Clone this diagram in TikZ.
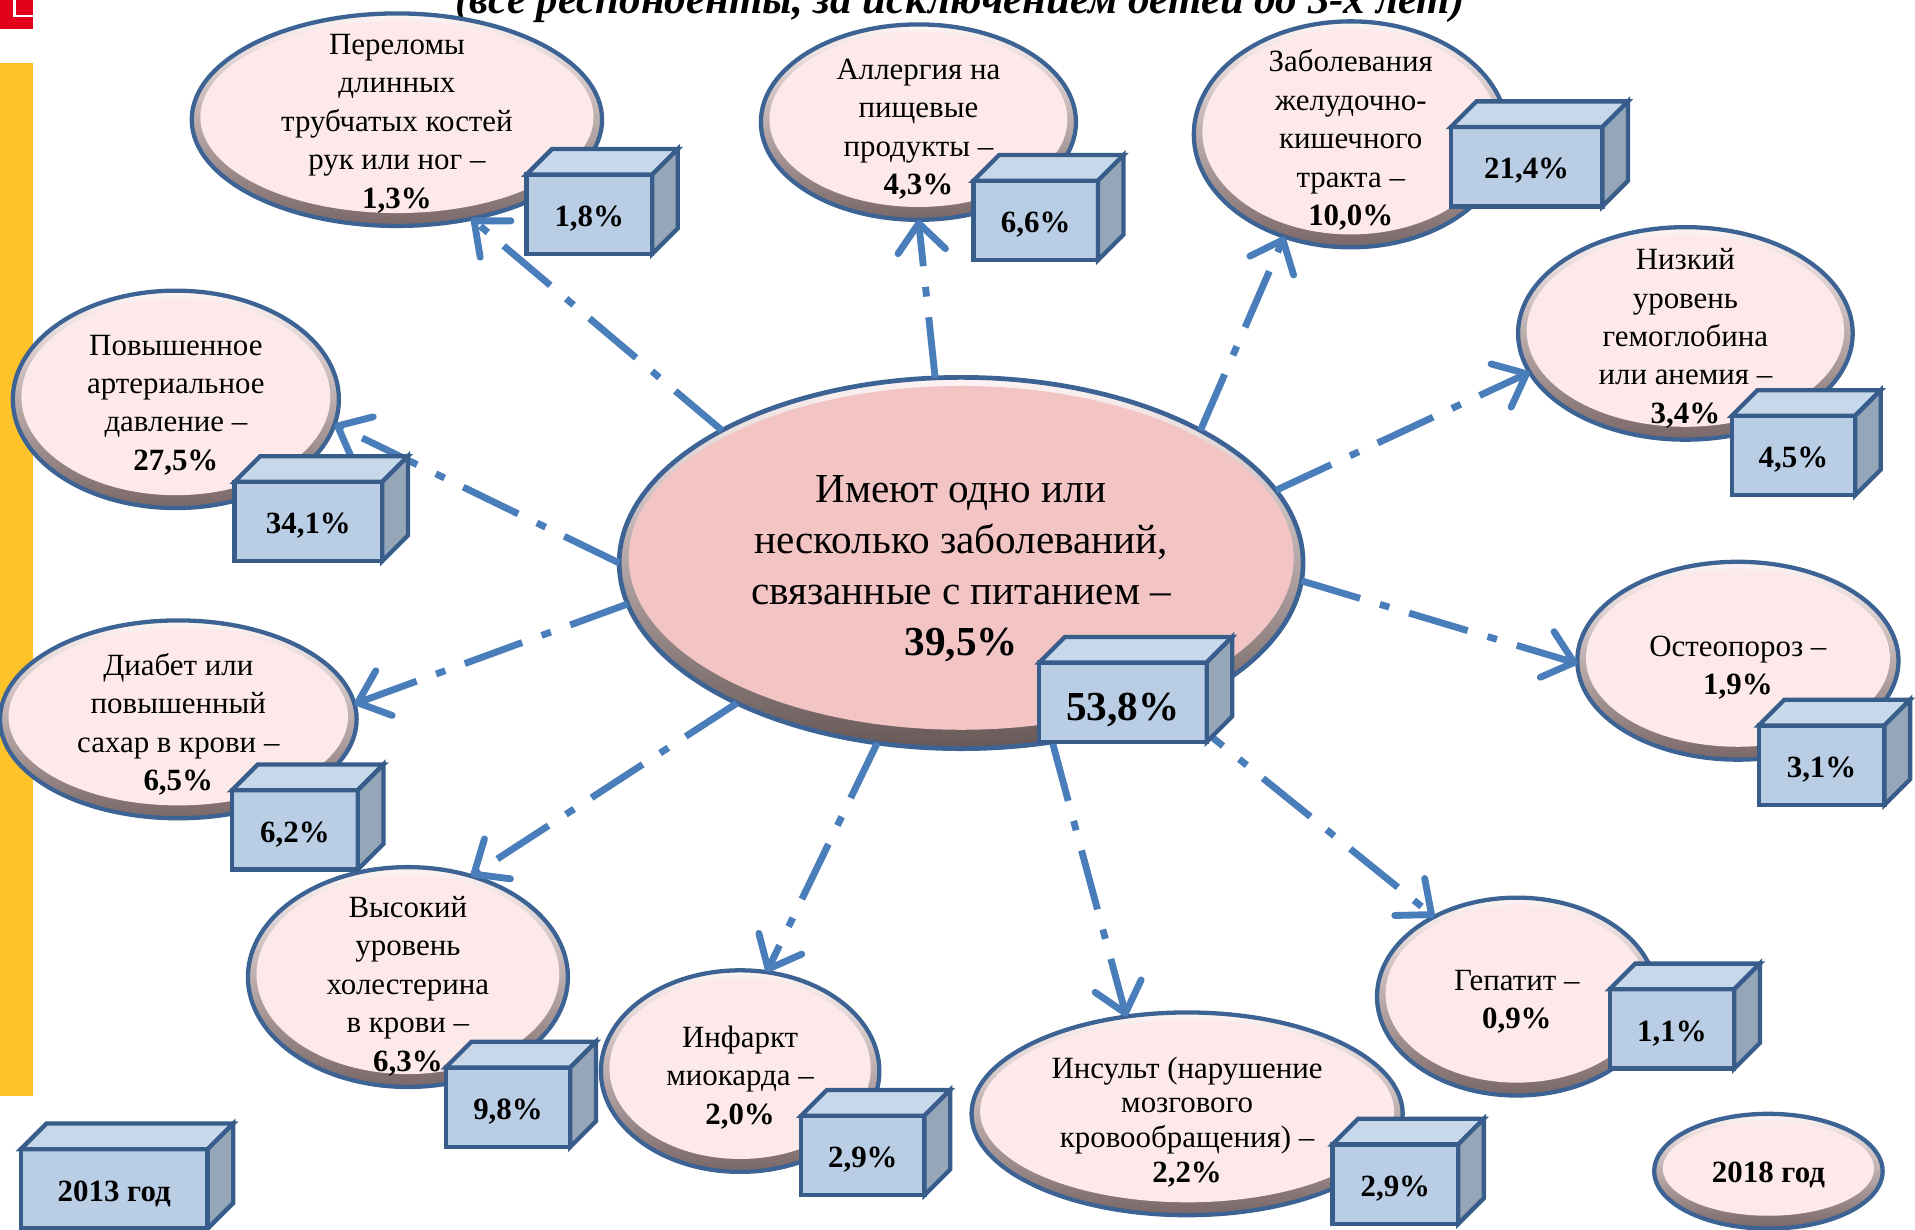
\documentclass[tikz,border=0pt]{standalone}
\usepackage{fontspec}
\setmainfont{Liberation Serif}
\usetikzlibrary{shapes.geometric, arrows.meta, calc}

\definecolor{arrowblue}{HTML}{4A7EBB}
\definecolor{ringblue}{HTML}{3C6394}
\definecolor{boxline}{HTML}{385D8A}
\definecolor{boxfront}{HTML}{B9CDE5}
\definecolor{boxtop}{HTML}{C8D8EB}
\definecolor{boxside}{HTML}{95A6B9}
\definecolor{bubblefill}{HTML}{FDE9E9}
\definecolor{mainfill}{HTML}{F3C4C4}
\definecolor{rimtop}{HTML}{FFF4F4}
\definecolor{rimbot}{HTML}{7A6767}
\definecolor{barred}{HTML}{E2001A}
\definecolor{baryellow}{HTML}{FEC22B}

\tikzset{
  bubble/.style={ellipse, draw=ringblue, line width=1pt, inner sep=0pt, outer sep=0pt,
    top color=rimtop, bottom color=rimbot,
    path picture={\fill[bubblefill] let \p1=(path picture bounding box.north east),
      \p2=(path picture bounding box.center) in
      ([yshift=0.6pt]\p2) ellipse ({\x1-\x2-2pt} and {\y1-\y2-2.4pt});}},
  mainbubble/.style={ellipse, draw=ringblue, line width=1.1pt, inner sep=0pt, outer sep=0pt,
    top color=rimtop, bottom color=rimbot!85!black,
    path picture={\fill[mainfill] let \p1=(path picture bounding box.north east),
      \p2=(path picture bounding box.center) in
      ([yshift=1.2pt]\p2) ellipse ({\x1-\x2-2.2pt} and {\y1-\y2-3.2pt});}},
  lbl/.style={align=center, inner sep=0pt, yshift=#1, font=\fontsize{7.2}{8.95}\selectfont},
  lbl/.default=-1.3pt,
  frontbox/.style={rectangle, draw=boxline, fill=boxfront, line width=1pt,
    minimum height=6.5mm, inner sep=0pt, outer sep=0pt,
    text height=6.9pt, text depth=1.2pt,
    font=\bfseries\fontsize{7.2}{8.6}\selectfont},
  arr/.style={arrowblue, line width=1.6pt,
    dash pattern=on 5mm off 1.7mm on 0.8mm off 1.7mm,
    -{Straight Barb[length=2.3mm, width=3.9mm, round]}},
}

% value box drawn as a cuboid: name, front centre, front width, text
\def\boxd{2.1mm}
\newcommand{\valbox}[5][]{%
  \node[frontbox, minimum width=#4, #1] (#2) at (#3) {#5};
  \filldraw[boxline, line width=1pt, fill=boxtop] (#2.north west) -- ++(\boxd,\boxd)
    -- ([shift={(\boxd,\boxd)}]#2.north east) -- (#2.north east) -- cycle;
  \filldraw[boxline, line width=1pt, fill=boxside] (#2.north east) -- ++(\boxd,\boxd)
    -- ([shift={(\boxd,\boxd)}]#2.south east) -- (#2.south east) -- cycle;
}

\begin{document}
\begin{tikzpicture}[x=0.1mm, y={(0,-0.1mm)}]
  \useasboundingbox (0,0) rectangle (1568,1007);
  \clip (0,0) rectangle (1568,1007);

  % slide decoration on the left
  \fill[barred] (0,0) rectangle (27,24);
  \draw[white, line width=0.2mm] (12,0) -- (12,13) -- (27,13);
  \fill[baryellow] (0,52) rectangle (27,897);

  \node[anchor=base, font=\bfseries\itshape\fontsize{10}{12}\selectfont] (ttl) at (786,11)
    {(все респонденты, за исключением детей до 3-х лет)};

  % central ellipse
  \node[mainbubble, minimum width=56mm, minimum height=30.4mm] (main) at (787,461) {};
  \node[lbl, font=\fontsize{9.6}{11.9}\selectfont] (maint) at (main)
    {Имеют одно или\\несколько заболеваний,\\связанные с питанием --\\\textbf{39,5\%}};

  % diseases
  \node[bubble, minimum width=33.6mm, minimum height=17.4mm] (p1) at (325,98) {};
  \node[lbl=-0.9pt] (p1t) at (p1) {Переломы\\длинных\\трубчатых костей\\рук или ног --\\\textbf{1,3\%}};
  \node[bubble, minimum width=25.8mm, minimum height=16mm] (p2) at (752,100) {};
  \node[lbl=-1.6pt] (p2t) at (p2) {Аллергия на\\пищевые\\продукты --\\\textbf{4,3\%}};
  \node[bubble, minimum width=25.7mm, minimum height=18.5mm] (p3) at (1106,110) {};
  \node[lbl] (p3t) at (p3) {Заболевания\\желудочно-\\кишечного\\тракта --\\\textbf{10,0\%}};
  \node[bubble, minimum width=27.4mm, minimum height=17.4mm] (p4) at (1380,273) {};
  \node[lbl=-1.15pt] (p4t) at (p4) {Низкий\\уровень\\гемоглобина\\или анемия --\\\textbf{3,4\%}};
  \node[bubble, minimum width=26.3mm, minimum height=16.2mm] (p5) at (1423,541) {};
  \node[lbl=-1.6pt] (p5t) at (p5) {Остеопороз --\\\textbf{1,9\%}};
  \node[bubble, minimum width=22.9mm, minimum height=16.2mm] (p6) at (1242,816) {};
  \node[lbl=-1.15pt] (p6t) at (p6) {Гепатит --\\\textbf{0,9\%}};
  \node[bubble, minimum width=35.3mm, minimum height=16.6mm] (p7) at (972,912) {};
  \node[lbl=-1.9pt, font=\fontsize{7.2}{8.1}\selectfont] (p7t) at (p7)
    {Инсульт (нарушение\\мозгового\\кровообращения) --\\\textbf{2,2\%}};
  \node[bubble, minimum width=22.8mm, minimum height=16.5mm] (p8) at (606,877) {};
  \node[lbl=-1.45pt] (p8t) at (p8) {Инфаркт\\миокарда --\\\textbf{2,0\%}};
  \node[bubble, minimum width=26.2mm, minimum height=18mm] (p9) at (334,800) {};
  \node[lbl=-2.1pt] (p9t) at (p9) {Высокий\\уровень\\холестерина\\в крови --\\\textbf{6,3\%}};
  \node[bubble, minimum width=29.2mm, minimum height=16.2mm] (p10) at (146,589) {};
  \node[lbl=-1.15pt] (p10t) at (p10) {Диабет или\\повышенный\\сахар в крови --\\\textbf{6,5\%}};
  \node[bubble, minimum width=26.7mm, minimum height=17.8mm] (p11) at (144,327) {};
  \node[lbl] (p11t) at (p11) {Повышенное\\артериальное\\давление --\\\textbf{27,5\%}};

  \node[bubble, minimum width=18.7mm, minimum height=9.4mm] (py) at (1448,959) {};
  \node[lbl=-0.9pt, font=\bfseries\fontsize{7.2}{8.6}\selectfont] (pyt) at (py) {2018 год};

  % arrows from the centre
  \foreach \a/\t/\b in {151/p1/307.4, 98/p2/270, 29/p3/237.5, 13/p4/194.8,
      357/p5/181.6, 326/p6/136.3, 297.3/p7/122.7, 245.4/p8/75.8,
      212/p9/58.5, 187.5/p10/5.8, 180/p11/351.5}
    \draw[arr] (main.\a) -- (\t.\b);

  % 2013 values
  \valbox[font=\bfseries\fontsize{9.6}{11}\selectfont, text height=10.1pt, text depth=1.7pt]
    {b0}{919.5,575}{13.7mm}{53,8\%}
  \valbox{b1}{482.5,175.5}{10.3mm}{1,8\%}
  \valbox{b2}{848,180.5}{10.2mm}{6,6\%}
  \valbox{b3}{1250,136.5}{12.4mm}{21,4\%}
  \valbox{b4}{1468.5,373}{10.1mm}{4,5\%}
  \valbox{b5}{1491.5,626.5}{10.3mm}{3,1\%}
  \valbox{b6}{1369,842.5}{10.2mm}{1,1\%}
  \valbox{b7}{1142.5,969.5}{10.3mm}{2,9\%}
  \valbox{b8}{706.5,946}{10.1mm}{2,9\%}
  \valbox{b9}{416,906.5}{10.2mm}{9,8\%}
  \valbox{b10}{241.5,679.5}{10.3mm}{6,2\%}
  \valbox{b11}{252.5,427}{12.1mm}{34,1\%}
  \valbox{by}{93.5,973.5}{15.3mm}{2013 год}
\end{tikzpicture}
\end{document}
